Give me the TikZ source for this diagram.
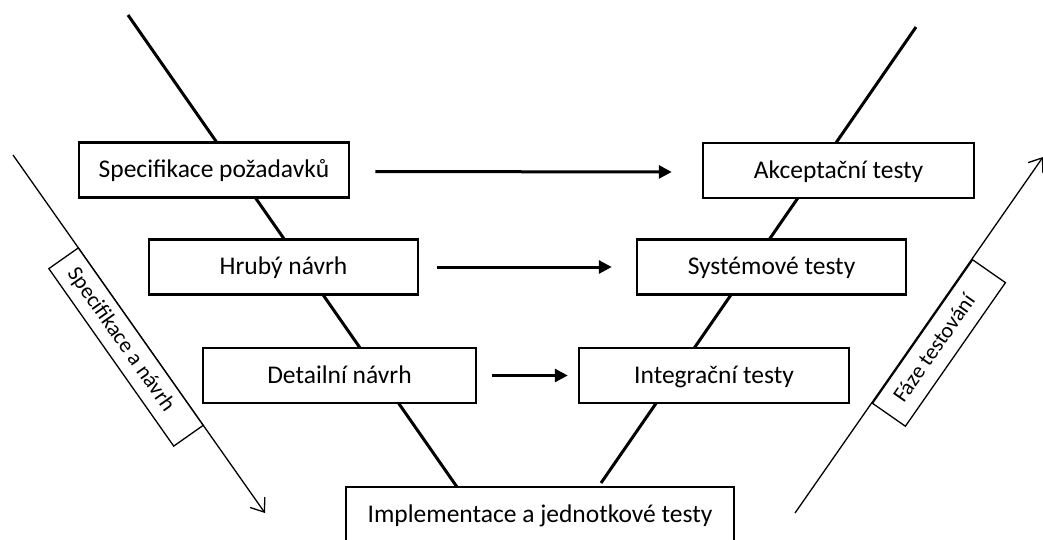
\documentclass[tikz,border=0pt]{standalone}
\usepackage{fontspec}
\setmainfont{Carlito}
\usetikzlibrary{arrows.meta,backgrounds}
\begin{document}
\begin{tikzpicture}[x=1pt,y=-1pt,
  phase/.style={draw, line width=2.5pt, fill=white, minimum height=55pt,
    inner sep=0pt, text height=20pt, text depth=5pt,
    font=\fontsize{25.5}{30}\selectfont},
  vline/.style={line width=3pt},
  flow/.style={line width=3pt, -{Triangle[length=13pt,width=13pt]}},
  axis/.style={line width=1.3pt, -{Straight Barb[length=12pt,width=18pt]}},
  tag/.style={draw, line width=1.3pt, fill=white, inner sep=0pt,
    text height=17pt, text depth=5pt,
    font=\fontsize{22}{26}\selectfont}]
\useasboundingbox (0,0) rectangle (1043,539);
\clip (0,0) rectangle (1043,539);

% left branch: specification and design
\node[phase, minimum width=270pt] (spec)   at (214,170)     {Specifikace požadavků};
\node[phase, minimum width=269pt] (hruby)  at (283.5,267)   {Hrubý návrh};
\node[phase, minimum width=273pt] (detail) at (339.5,375.5) {Detailní návrh};

% right branch: testing
\node[phase, minimum width=271pt] (akc)    at (838.5,170.5) {Akceptační testy};
\node[phase, minimum width=269pt] (sys)    at (771.5,267)   {Systémové testy};
\node[phase, minimum width=270pt] (integ)  at (714,375.5)   {Integrační testy};

% bottom of the V
\node[phase, minimum width=388pt] (impl)   at (540,514.5)   {Implementace a jednotkové testy};

% the two arms of the V, behind the boxes
\coordinate (vlt) at (128,15);
\coordinate (vlb) at (457,487);
\coordinate (vrt) at (916,27);
\coordinate (vrb) at (601,483);
\begin{pgfonlayer}{background}
  \draw[vline] (vlt) -- (vlb);
  \draw[vline] (vrt) -- (vrb);
\end{pgfonlayer}

% design level -> matching test level
\draw[flow, shorten <=25pt, shorten >=30pt] ([yshift=-1.5pt]spec.east) -- ([yshift=-1.5pt]akc.west);
\draw[flow, shorten <=18pt, shorten >=24pt] (hruby.east)  -- (sys.west);
\draw[flow, shorten <=15pt, shorten >=10pt] (detail.east) -- (integ.west);

% phase axes; the trailing space moves each label toward the start of its box
\coordinate (ls) at (13,155);
\coordinate (le) at (265,513);
\draw[axis] (ls) -- (le);
\node[tag, minimum width=217pt, minimum height=36pt, rotate=-54.86]
  (lspec) at (126,347) {Specifikace a návrh\hspace*{18pt}};

\coordinate (rs) at (795,513);
\coordinate (re) at (1043,157);
\draw[axis] (rs) -- (re);
\node[tag, minimum width=175pt, minimum height=40pt, rotate=55.13]
  (rtest) at (939,343) {Fáze testování\hspace*{14pt}};
\end{tikzpicture}
\end{document}
